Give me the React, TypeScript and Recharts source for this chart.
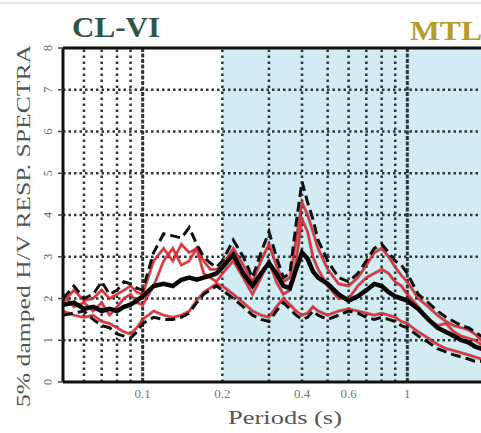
import React from 'react';
import {
    LineChart,
    Line,
    XAxis,
    YAxis,
    ReferenceArea,
    ReferenceLine
} from 'recharts';

// Periods (s), shared by every curve
const periods = [
    0.05, 0.055, 0.06, 0.065, 0.07, 0.075, 0.08, 0.085, 0.09, 0.095,
    0.1, 0.11, 0.12, 0.13, 0.14, 0.15, 0.16, 0.17, 0.18, 0.19,
    0.2, 0.22, 0.24, 0.26, 0.28, 0.3, 0.32, 0.34, 0.36, 0.38,
    0.4, 0.42, 0.44, 0.46, 0.5, 0.55, 0.6, 0.65, 0.7, 0.75,
    0.8, 0.85, 0.9, 0.95, 1.0, 1.1, 1.2, 1.3, 1.4, 1.5,
    1.6, 1.7, 1.8, 1.9, 2.0
];

// mean H/V (thick black)
const meanHV = [
    1.85, 1.9, 1.75, 1.8, 1.7, 1.75, 1.7, 1.8, 1.85, 1.95,
    2.05, 2.3, 2.35, 2.3, 2.45, 2.5, 2.45, 2.5, 2.55, 2.6,
    2.75, 3.05, 2.6, 2.3, 2.6, 2.85, 2.6, 2.3, 2.25, 2.7,
    3.1, 2.95, 2.65, 2.5, 2.35, 2.1, 1.95, 2.05, 2.2, 2.35,
    2.3, 2.15, 2.05, 2.0, 1.95, 1.75, 1.5, 1.3, 1.2, 1.1,
    1.0, 0.95, 0.85, 0.8, 0.75
];

// mean + sigma (dashed)
const upperHV = [
    2.0, 2.3, 2.0, 2.1, 2.4, 2.1, 2.2, 2.4, 2.35, 2.25,
    2.2, 3.1, 3.55, 3.5, 3.45, 3.7, 3.3, 3.0, 2.85, 2.75,
    2.9, 3.4, 3.0, 2.5, 3.1, 3.6, 3.0, 2.5, 2.6, 3.8,
    4.8, 4.3, 3.9, 3.4, 2.9, 2.5, 2.4, 2.6, 2.9, 3.2,
    3.3, 3.1, 2.9, 2.8, 2.6, 2.1, 1.9, 1.7, 1.55, 1.45,
    1.35, 1.3, 1.2, 1.1, 1.0
];

// mean - sigma (dashed)
const lowerHV = [
    1.6, 1.65, 1.7, 1.5, 1.35, 1.3, 1.15, 1.1, 1.05, 1.2,
    1.4, 1.55, 1.5, 1.5, 1.55, 1.65, 1.9, 2.1, 2.2, 2.3,
    2.2, 2.0, 1.8, 1.6, 1.5, 1.45, 1.7, 1.9, 1.75, 1.6,
    1.5, 1.55, 1.7, 1.6, 1.5, 1.6, 1.7, 1.65, 1.55, 1.5,
    1.55, 1.5, 1.45, 1.35, 1.3, 1.1, 0.95, 0.8, 0.72, 0.65,
    0.6, 0.55, 0.5, 0.5, 0.45
];

// individual records (red)
const rec1 = [
    1.9, 2.2, 1.95, 2.0, 2.2, 2.0, 2.1, 2.2, 2.3, 2.15,
    2.1, 2.9, 3.2, 2.9, 3.3, 3.1, 3.2, 2.9, 2.7, 2.7,
    2.8, 3.2, 2.8, 2.4, 2.9, 3.3, 2.8, 2.4, 2.5, 3.4,
    4.3, 4.0, 3.6, 3.2, 2.7, 2.35, 2.3, 2.5, 2.8, 3.1,
    3.2, 3.0, 2.75, 2.55, 2.4, 2.0, 1.8, 1.6, 1.45, 1.35,
    1.3, 1.25, 1.15, 1.0, 0.95
];
const rec2 = [
    2.1, 1.8, 1.9, 1.7, 1.9, 1.6, 1.8, 2.0, 2.1, 1.9,
    1.85, 2.3, 2.9, 3.2, 2.8, 2.9, 3.2, 2.6, 2.5, 2.4,
    2.6, 2.9, 2.5, 2.1, 2.5, 2.9, 2.4, 2.1, 2.2, 2.9,
    3.9, 3.6, 3.0, 2.7, 2.3, 2.0, 2.0, 2.3, 2.5, 2.6,
    2.7, 2.6, 2.4, 2.3, 2.1, 1.8, 1.5, 1.35, 1.4, 1.2,
    1.1, 1.05, 1.0, 0.9, 0.85
];
const rec3 = [
    1.7, 1.6, 1.55, 1.6, 1.45, 1.4, 1.3, 1.2, 1.15, 1.3,
    1.5, 1.7, 1.6, 1.55, 1.6, 1.7, 1.95, 2.15, 2.25, 2.35,
    2.3, 2.1, 1.9, 1.7, 1.6, 1.55, 1.8, 2.0, 1.85, 1.7,
    1.6, 1.65, 1.8, 1.7, 1.6, 1.7, 1.75, 1.7, 1.65, 1.6,
    1.65, 1.6, 1.55, 1.45, 1.4, 1.2, 1.05, 0.9, 0.8, 0.75,
    0.7, 0.65, 0.6, 0.55, 0.5
];

const xTicks = [0.1, 0.2, 0.4, 0.6, 1];
const yTicks = [0, 1, 2, 3, 4, 5, 6, 7, 8];
const gridX = [0.06, 0.07, 0.08, 0.09, 0.1, 0.2, 0.3, 0.4, 0.5, 0.6, 0.7, 0.8, 0.9, 1];
const gridY = [1, 2, 3, 4, 5, 6, 7];

const data = periods.map((p, i) => ({
    period: p,
    mean: meanHV[i],
    upper: upperHV[i],
    lower: lowerHV[i],
    r1: rec1[i],
    r2: rec2[i],
    r3: rec3[i]
}));

const SERIF = '"Liberation Serif", "DejaVu Serif", serif';
const GRID = '#2b3838';

const YTick = ({ x, y, payload }: any) => (
    <text
        x={x - 4}
        y={y}
        transform={`rotate(-90, ${x - 4}, ${y})`}
        textAnchor="middle"
        fontSize={12}
        fontFamily={SERIF}
        fill="#666"
    >
        {payload.value}
    </text>
);

const redKeys = ['r1', 'r2', 'r3'];

export default function App() {
    return (
        <div style={{ position: 'absolute', left: 0, top: 0, width: 481, height: 433, overflow: 'hidden', background: '#fff' }}>
            <LineChart
                width={500}
                height={433}
                data={data}
                margin={{ top: 48, right: 13, left: 0, bottom: 0 }}
            >
                <ReferenceArea x1={0.2} x2={2} y1={0} y2={8} fill="#d3ebf3" fillOpacity={1} stroke="none" />
                {gridY.map(v => (
                    <ReferenceLine key={'gy' + v} y={v} stroke={GRID} strokeWidth={2.5} strokeDasharray="2.5 3" />
                ))}
                {gridX.map(v => (
                    <ReferenceLine
                        key={'gx' + v}
                        x={v}
                        stroke={GRID}
                        strokeWidth={v === 0.1 || v === 1 ? 3 : 2.5}
                        strokeDasharray={v === 0.1 || v === 1 ? '4 1.5' : '2.5 3.5'}
                    />
                ))}
                <ReferenceLine y={8} stroke="#111" strokeWidth={3} />
                <XAxis
                    dataKey="period"
                    type="number"
                    scale="log"
                    domain={[0.05, 2]}
                    allowDataOverflow
                    ticks={xTicks}
                    tickFormatter={(v: number) => String(v)}
                    height={51}
                    axisLine={{ stroke: '#111', strokeWidth: 3 }}
                    tickLine={false}
                    tick={{ fill: '#777', fontSize: 13, fontFamily: SERIF }}
                    tickMargin={1}
                />
                <YAxis
                    type="number"
                    domain={[0, 8]}
                    ticks={yTicks}
                    width={63}
                    axisLine={{ stroke: '#111', strokeWidth: 3 }}
                    tickLine={{ stroke: '#444', strokeWidth: 1.5 }}
                    tickSize={5}
                    tick={<YTick />}
                    interval={0}
                />
                {/* individual records: faint dark halo under thin red */}
                {redKeys.map(k => (
                    <Line key={k + 'halo'} dataKey={k} type="linear" dot={false} stroke="#4a0c0c" strokeOpacity={0.45} strokeWidth={3.2} isAnimationActive={false} />
                ))}
                {redKeys.map(k => (
                    <Line key={k} dataKey={k} type="linear" dot={false} stroke="#f02a32" strokeWidth={1.8} isAnimationActive={false} />
                ))}
                <Line dataKey="upper" type="linear" dot={false} stroke="#111" strokeWidth={3} strokeDasharray="10 5" isAnimationActive={false} />
                <Line dataKey="lower" type="linear" dot={false} stroke="#111" strokeWidth={3} strokeDasharray="10 5" isAnimationActive={false} />
                <Line dataKey="mean" type="linear" dot={false} stroke="#050505" strokeWidth={4.5} isAnimationActive={false} />
            </LineChart>
            <svg width={481} height={433} style={{ position: 'absolute', left: 0, top: 0, pointerEvents: 'none' }}>
                <line x1={0} y1={3} x2={481} y2={3} stroke="#ddd" strokeWidth={1.5} />
                <text x={72} y={37} fontSize={30} fontWeight="bold" fontFamily={SERIF} fill="#2e5646" textLength={88} lengthAdjust="spacingAndGlyphs">
                    CL-VI
                </text>
                <text x={410} y={40} fontSize={28} fontWeight="bold" fontFamily={SERIF} fill="#b39d2e" textLength={72} lengthAdjust="spacingAndGlyphs">
                    MTL
                </text>
                <text
                    x={30}
                    y={226}
                    transform="rotate(-90, 30, 226)"
                    textAnchor="middle"
                    fontSize={18}
                    fontFamily={SERIF}
                    fill="#555"
                    textLength={362}
                    lengthAdjust="spacingAndGlyphs"
                >
                    5% damped H/V RESP. SPECTRA
                </text>
                <text x={228} y={424} fontSize={18} fontFamily={SERIF} fill="#555" textLength={114} lengthAdjust="spacingAndGlyphs">
                    Periods (s)
                </text>
            </svg>
        </div>
    );
}
